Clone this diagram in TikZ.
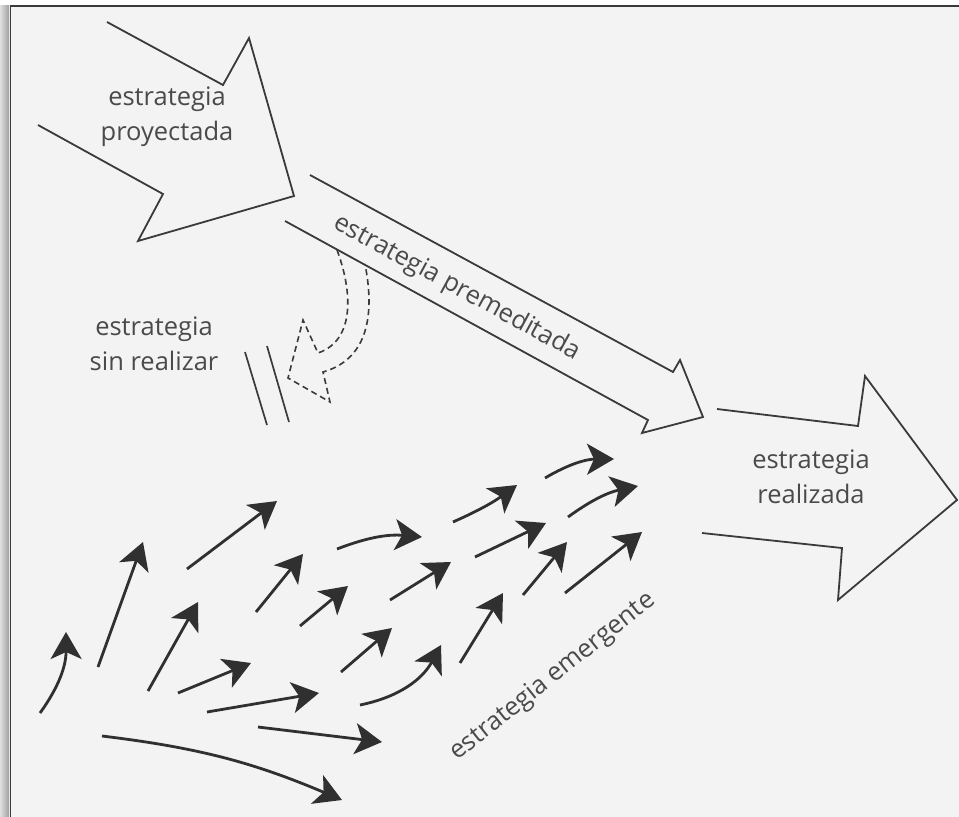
\documentclass[tikz,border=0pt]{standalone}
\usepackage{fontspec}
\setmainfont{Open Sans}
\usetikzlibrary{arrows.meta}
\definecolor{ink}{HTML}{3A3A3A}
\definecolor{arrowink}{HTML}{303030}
\definecolor{labelink}{HTML}{4A4A4A}
\definecolor{paper}{HTML}{F3F3F3}
\begin{document}
\begin{tikzpicture}[x=1pt,y=-1pt,
  outline/.style={draw=ink,line width=1.8pt,line join=miter},
  dashline/.style={draw=ink,line width=1.6pt,dash pattern=on 6pt off 4pt},
  emarrow/.style={draw=arrowink,line width=2.8pt,-{Stealth[length=27pt,width=31pt,inset=7pt]}},
  lbl/.style={text=labelink,font=\fontsize{25.5}{35}\selectfont,align=center,inner sep=0pt}]

% page, frame and shadow
\useasboundingbox (0,0) rectangle (959,817);
\fill[paper] (0,0) rectangle (959,817);
\fill[white] (0,0) rectangle (959,5);
\shade[left color=gray!25,right color=gray!75] (0,5) rectangle (9,817);
\draw[ink,line width=1.8pt] (10.5,817) -- (10.5,6) -- (959,6);

% planned strategy (large open arrow)
\draw[outline] (107,22) -- (223,85) -- (249,38) -- (294,196) -- (138,241) -- (163,194) -- (38,125);
\node[lbl] (proy) at (167,117) {estrategia\\proyectada};

% deliberate strategy (long narrow arrow)
\draw[outline] (310,175) -- (673,372) -- (680,360) -- (703,417) -- (642,433) -- (648,420) -- (285,221);
\node[lbl,rotate=-28.6] (prem) at (457,288) {estrategia premeditada};

% unrealized strategy (dashed arrow peeling off)
\draw[dashline] (337,250) .. controls (352,290) and (356,340) .. (318,353)
  -- (303,320) -- (288,378) -- (330,402) -- (323,372)
  .. controls (365,360) and (376,320) .. (365,264);
\draw[outline,line width=1.7pt] (245,352) -- (267,425);
\draw[outline,line width=1.7pt] (267,346) -- (289,422);
\node[lbl] (sinr) at (154,344) {estrategia\\sin realizar};

% realized strategy (large open arrow)
\draw[outline] (717,409) -- (858,426) -- (865,376) -- (957,500) -- (838,600) -- (842,548) -- (702,533);
\node[lbl] (real) at (811,477) {estrategia\\realizada};

% emergent strategy (field of small arrows)
\foreach \i/\ax/\ay/\bx/\by/\bend in {
  1/40/713/66/632/-18,
  2/98/667/143/542/0,
  3/187/569/277/501/0,
  4/148/691/198/602/0,
  5/256/612/303/554/0,
  6/178/693/251/663/0,
  7/207/712/319/693/0,
  8/258/727/382/742/0,
  9/102/736/342/800/8,
  10/300/626/348/586/0,
  11/337/549/422/537/13,
  12/341/672/392/628/0,
  13/390/600/451/562/0,
  14/360/705/441/645/-25,
  15/453/522/517/485/-6,
  16/545/478/614/459/15,
  17/475/557/546/523/0,
  18/568/517/638/486/12,
  19/523/595/567/542/0,
  20/565/593/642/532/0,
  21/460/663/503/593/0}{
  \coordinate (es\i) at (\ax,\ay);
  \coordinate (et\i) at (\bx,\by);
  \draw[emarrow] (es\i) to[bend left=\bend] (et\i);
}
\node[lbl,rotate=38.5] (emer) at (553,677) {estrategia emergente};
\end{tikzpicture}
\end{document}
